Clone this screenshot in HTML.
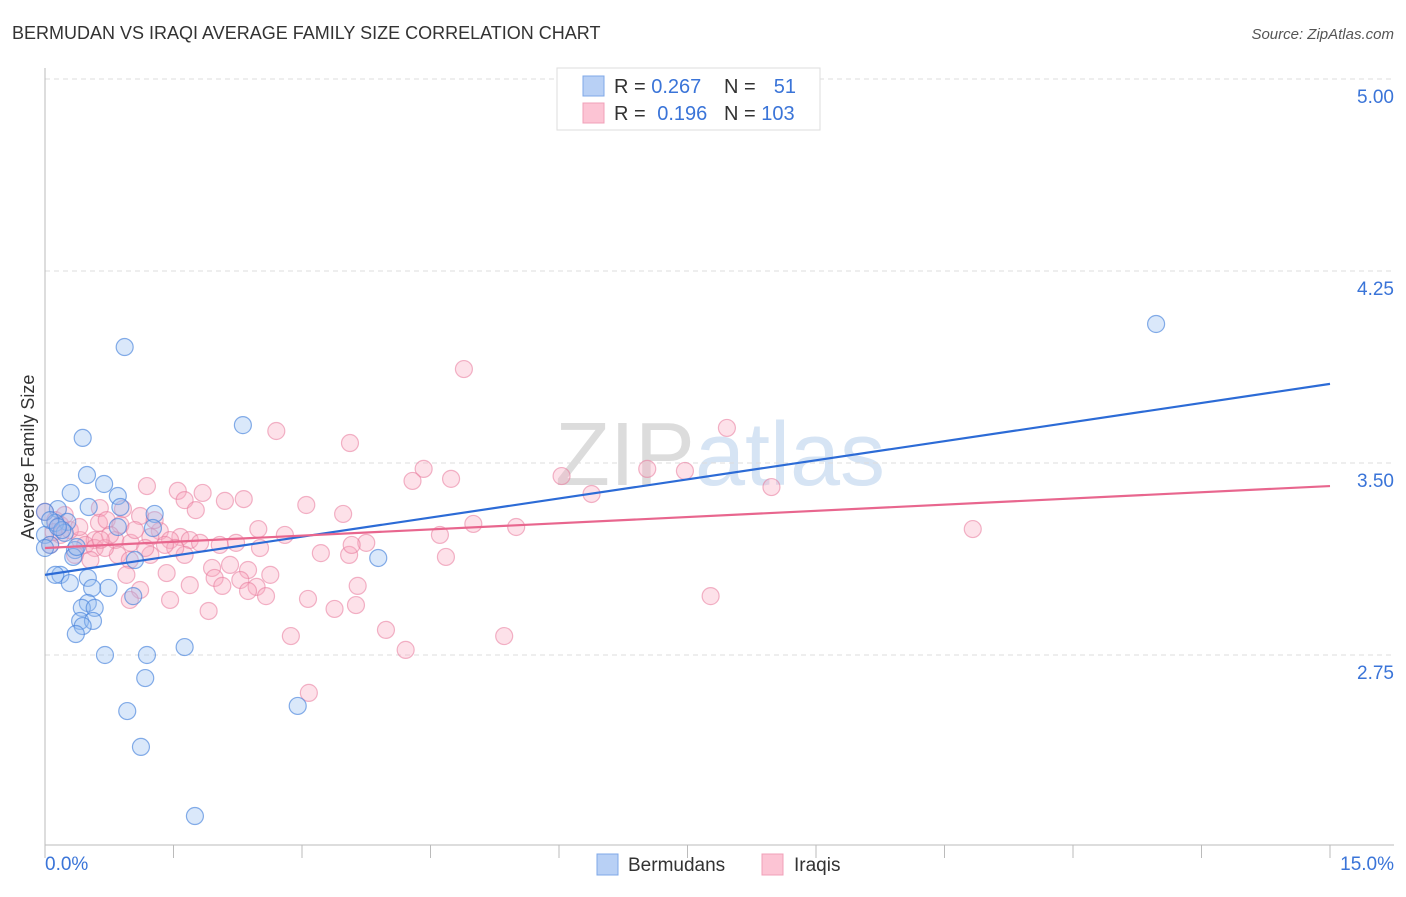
<!DOCTYPE html>
<html><head><meta charset="utf-8"><style>
body{margin:0;background:#fff;font-family:"Liberation Sans",sans-serif;}
svg text{font-family:"Liberation Sans",sans-serif;}
</style></head><body>
<svg id="chart" width="1406" height="892" xmlns="http://www.w3.org/2000/svg">
<text x="12" y="39" font-size="18" fill="#333">BERMUDAN VS IRAQI AVERAGE FAMILY SIZE CORRELATION CHART</text>
<text x="1394" y="39" font-size="15" fill="#555" font-style="italic" text-anchor="end">Source: ZipAtlas.com</text>
<text x="720" y="485" font-size="90" fill="#e4e4e4" text-anchor="middle" font-family="Liberation Serif"><tspan fill="#dcdcdc">ZIP</tspan><tspan fill="#d6e4f4" font-family="Liberation Sans">atlas</tspan></text>
<g id="grid"></g>
<g id="axes"></g>
<g id="pts"></g>
<g id="lines"></g>
<text transform="translate(34,457) rotate(-90)" font-size="18" fill="#333" text-anchor="middle">Average Family Size</text>
<g>
<rect x="557" y="68" width="263" height="62" fill="#fff" stroke="#ddd"/>
<rect x="583" y="76" width="21" height="20" fill="#b8d0f5" stroke="#7fa8e8"/>
<rect x="583" y="103" width="21" height="20" fill="#fcc4d4" stroke="#f0a0b8"/>
<text x="614" y="93" font-size="20" fill="#333">R = <tspan fill="#3a74d8">0.267</tspan></text>
<text x="724" y="93" font-size="20" fill="#333">N =</text>
<text x="796" y="93" font-size="20" fill="#3a74d8" text-anchor="end">51</text>
<text x="614" y="120" font-size="20" fill="#333">R = <tspan fill="#3a74d8" dx="6">0.196</tspan></text>
<text x="724" y="120" font-size="20" fill="#333">N = <tspan fill="#3a74d8">103</tspan></text>
</g>
<g>
<rect x="597" y="854" width="21" height="21" fill="#b8d0f5" stroke="#7fa8e8"/>
<text x="628" y="871" font-size="19" fill="#333">Bermudans</text>
<rect x="762" y="854" width="21" height="21" fill="#fcc4d4" stroke="#f0a0b8"/>
<text x="794" y="871" font-size="19" fill="#333">Iraqis</text>
</g>
</svg>
<script>
const yTicks=[5.00,4.25,3.50,2.75];
const yTickLabels=["5.00","4.25","3.50","2.75"];
const xTickLabels=["0.0%","15.0%"];
const bermX=[0.93,2.31,0.44,0.49,0.69,0.30,0.85,0.51,0.88,1.28,0.15,0,0.26,0.12,0.85,1.26,0,0.23,0.06,0.35,0.33,1.05,3.89,0.18,0.12,0.50,0.29,0.55,0.74,1.03,0.50,0.43,0.58,0.41,0.56,0.44,0.36,0.70,1.19,1.63,1.17,0.96,2.95,1.12,1.75,12.97,0.06,0.20,0,0.37,0.15];
const bermY=[3.953,3.648,3.598,3.453,3.418,3.383,3.371,3.328,3.328,3.301,3.320,3.309,3.270,3.266,3.250,3.246,3.219,3.227,3.180,3.160,3.133,3.121,3.129,3.063,3.063,3.051,3.031,3.012,3.012,2.980,2.953,2.934,2.934,2.883,2.883,2.863,2.832,2.750,2.750,2.781,2.660,2.531,2.551,2.391,2.121,4.043,3.277,3.238,3.168,3.172,3.250];
const iraqX=[4.89,7.96,2.70,3.56,4.42,7.03,7.47,6.03,4.29,4.74,8.48,6.38,1.19,1.55,1.84,2.32,2.10,1.63,3.05,1.76,0.64,0.91,1.11,3.48,5.00,5.50,10.83,0.63,0.72,2.49,2.80,1.34,1.58,4.61,0.0,0.12,0.18,0.41,0.58,0.82,1.00,1.23,1.46,1.69,1.81,2.04,2.23,2.51,3.22,3.55,3.75,3.58,4.68,0.85,1.23,1.63,0.99,1.95,2.16,2.37,2.63,0.95,1.42,1.98,2.28,2.47,1.69,2.07,2.37,3.65,1.11,2.58,3.07,3.38,3.63,1.46,1.91,7.77,3.98,2.87,5.36,4.21,3.08,0.18,0.29,0.47,0.58,0.35,0.70,0.06,0.88,0.76,0.23,1.52,1.17,0.53,1.05,1.28,1.40,0.99,0.10,0.40,0.65];
const iraqY=[3.867,3.637,3.625,3.578,3.477,3.477,3.469,3.449,3.430,3.438,3.406,3.379,3.410,3.391,3.383,3.359,3.352,3.355,3.336,3.316,3.324,3.320,3.293,3.301,3.262,3.250,3.242,3.266,3.277,3.242,3.219,3.234,3.211,3.219,3.309,3.277,3.219,3.199,3.199,3.199,3.188,3.211,3.199,3.199,3.188,3.180,3.188,3.168,3.148,3.141,3.188,3.180,3.133,3.141,3.141,3.141,3.121,3.090,3.102,3.082,3.063,3.063,3.070,3.051,3.043,3.016,3.023,3.020,3.000,3.020,3.004,2.980,2.969,2.930,2.945,2.965,2.922,2.980,2.848,2.824,2.824,2.770,2.602,3.258,3.238,3.180,3.168,3.141,3.168,3.180,3.258,3.219,3.297,3.168,3.168,3.121,3.238,3.277,3.180,2.965,3.230,3.250,3.200];
const bermTrend=[3.063,3.809];
const iraqTrend=[3.168,3.410];
const NS="http://www.w3.org/2000/svg";
const xs=v=>45+v/15*1285;
const ys=v=>463-(v-3.5)*256;
function mk(tag,attrs,parent){const e=document.createElementNS(NS,tag);for(const k in attrs)e.setAttribute(k,attrs[k]);parent.appendChild(e);return e;}
const grid=document.getElementById('grid'),axes=document.getElementById('axes'),pts=document.getElementById('pts'),lines=document.getElementById('lines');
yTicks.forEach((t,i)=>{
  const l=mk('line',{x1:45,x2:1394,y1:ys(t),y2:ys(t),stroke:'#ddd','stroke-dasharray':'5,4'},grid);
  
  
  const tx=mk('text',{x:1394,y:ys(t)+24,'font-size':19,fill:'#3a74d8','text-anchor':'end'},axes);
  tx.textContent=yTickLabels[i];
  
  
});
const ya=mk('line',{x1:45,x2:45,y1:68,y2:845,stroke:'#bbb'},axes);


const xa=mk('line',{x1:45,x2:1394,y1:845,y2:845,stroke:'#bbb'},axes);


for(let i=0;i<=10;i++){
  const t=mk('line',{x1:xs(i*1.5),x2:xs(i*1.5),y1:845,y2:858,stroke:'#bbb'},axes);
  
  
}
const xl0=mk('text',{x:45,y:870,'font-size':19,fill:'#3a74d8'},axes);xl0.textContent=xTickLabels[0];


const xl1=mk('text',{x:1394,y:870,'font-size':19,fill:'#3a74d8','text-anchor':'end'},axes);xl1.textContent=xTickLabels[1];


iraqX.forEach((x,i)=>{
  const c=mk('circle',{cx:xs(x),cy:ys(iraqY[i]),r:8.5,fill:'rgba(248,168,192,0.35)',stroke:'rgba(232,120,155,0.55)','stroke-width':1.2},pts);
  
  
});
bermX.forEach((x,i)=>{
  const c=mk('circle',{cx:xs(x),cy:ys(bermY[i]),r:8.5,fill:'rgba(150,190,240,0.35)',stroke:'rgba(70,130,220,0.65)','stroke-width':1.2},pts);
  
  
});
const bl=mk('line',{x1:xs(0),y1:ys(bermTrend[0]),x2:xs(15),y2:ys(bermTrend[1]),stroke:'#2c6bd6','stroke-width':2.2},lines);


const il=mk('line',{x1:xs(0),y1:ys(iraqTrend[0]),x2:xs(15),y2:ys(iraqTrend[1]),stroke:'#e8668e','stroke-width':2.2},lines);


</script>
</body></html>
